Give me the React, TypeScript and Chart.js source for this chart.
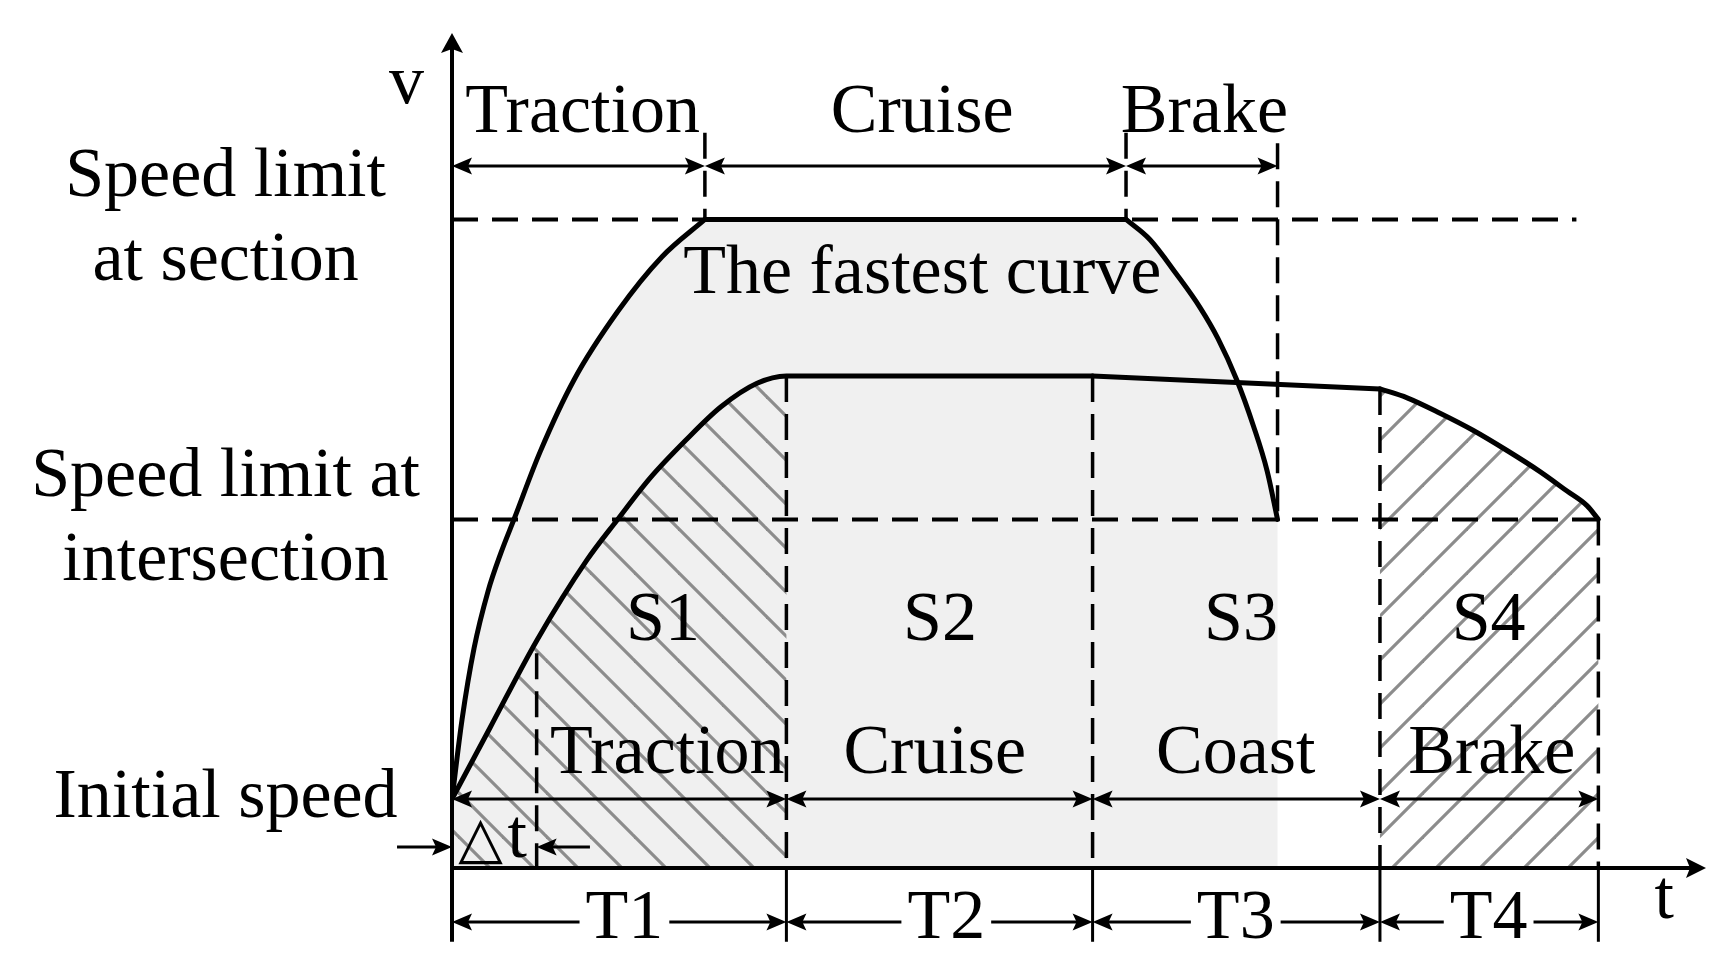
import React, { useEffect, useRef } from 'react';
import { Chart, registerables } from 'chart.js';

Chart.register(...registerables);

const FONT = "'Liberation Serif', 'Times New Roman', Times, serif";

// ---------- speed levels (v units) ----------
const INITIAL_SPEED = 8.5;
const INTERSECTION_LIMIT = 43;
const SECTION_LIMIT = 80;

// ---------- time boundaries (t units) ----------
const PHASE_EDGES = [0, 32, 61.3, 88.8, 109.7]; // T1 | T2 | T3 | T4
const FAST_EDGES = [0, 24.2, 64.5, 79]; // fastest curve: traction | cruise | brake
const DELTA_T = 8.1;

// ---------- the fastest curve ----------
const FAST_RISE_T = [0, 0.96, 2.11, 3.44, 4.69, 5.93, 8.42, 11.67, 15.89, 20.1, 24.2];
const FAST_RISE_V = [8.5, 18.3, 27.1, 34.1, 38.9, 43.0, 51.3, 60.2, 68.7, 75.4, 80];
const FAST_CRUISE_T = [24.2, 64.5];
const FAST_CRUISE_V = [80, 80];
const FAST_BRAKE_T = [64.5, 66.8, 69.3, 71.6, 73.3, 75.1, 76.7, 78.0, 79.0];
const FAST_BRAKE_V = [80, 77.5, 73.3, 69.1, 65.3, 60.2, 54.5, 49.0, 43.0];

// ---------- the planned curve ----------
const PLAN_TRACTION_T = [0, 3.64, 8.13, 12.92, 15.79, 18.95, 22.39, 25.74, 29.19, 32.0, 61.3];
const PLAN_TRACTION_V = [8.5, 17.3, 28.1, 38.0, 42.9, 48.1, 52.8, 56.9, 59.8, 60.7, 60.7];
const PLAN_COAST_T = [61.3, 88.8];
const PLAN_COAST_V = [60.7, 59.1];
const PLAN_BRAKE_T = [88.8, 91.4, 94.55, 97.7, 100.96, 104.11, 106.7, 108.61, 109.7];
const PLAN_BRAKE_V = [59.1, 58.0, 56.1, 54.0, 51.5, 48.9, 46.5, 44.7, 43.0];

// ---------- labels ----------
const Y_TICK_VALUES = [INITIAL_SPEED, INTERSECTION_LIMIT, SECTION_LIMIT];
const Y_TICK_LABELS = [['Initial speed'], ['Speed limit at', 'intersection'], ['Speed limit', 'at section']];
const TOP_PHASE_LABELS = ['Traction', 'Cruise', 'Brake'];
const PHASE_LABELS = ['Traction', 'Cruise', 'Coast', 'Brake'];
const AREA_LABELS = ['S1', 'S2', 'S3', 'S4'];
const PERIOD_LABELS = ['T1', 'T2', 'T3', 'T4'];
const FASTEST_LABEL = 'The fastest curve';

// ---------- annotation placement (data space) ----------
const LAYOUT = {
  xMax: 120,
  yMax: 103,
  topArrowV: 86.6,
  topLabelV: 90.8,
  topLabelX: [12.5, 45.0, 72.0],
  topGuideTopV: [90.7, 90.7, 89.4],
  fastestX: 45.0,
  fastestV: 70.9,
  areaLabelV: 28.1,
  areaLabelX: [20.2, 46.7, 75.5, 99.2],
  phaseLabelV: 11.7,
  phaseLabelX: [20.6, 46.2, 75.0, 99.5],
  dtGuideTopV: 26.5,
  dtArrowV: 2.6,
  dtArrowTails: [-5.26, 13.2],
  dtTriX: 0.6,
  dtTX: 5.3,
  dtLabelV: 1.36,
  bottomArrowV: -6.66,
  tickBottomV: -9.1,
  periodLabelV: -8.63,
  periodLabelX: [16.5, 47.3, 75.0, 99.2],
  sectionGuideEnd: 107.6,
  vLabelX: -4.35,
  vLabelV: 94.4,
  tLabelX: 116.0,
  tLabelV: -6.2,
};

const pts = (T: number[], V: number[]) => T.map((t, i) => ({ x: t, y: V[i] }));
const valueAt = (T: number[], V: number[], t: number) => V[T.indexOf(t)];

function arrowHead(ctx: CanvasRenderingContext2D, x: number, y: number, dx: number, dy: number, len = 20, half = 8.5, notch = 4) {
  const bx = x - dx * len;
  const by = y - dy * len;
  const nx = -dy;
  const ny = dx;
  ctx.beginPath();
  ctx.moveTo(x, y);
  ctx.lineTo(bx + nx * half, by + ny * half);
  ctx.lineTo(x - dx * (len - notch), y - dy * (len - notch));
  ctx.lineTo(bx - nx * half, by - ny * half);
  ctx.closePath();
  ctx.fill();
}

function trace(ctx: CanvasRenderingContext2D, meta: any) {
  const points = meta.data as any[];
  const opts = meta.dataset.options;
  const curved = opts.cubicInterpolationMode === 'monotone' || opts.tension > 0;
  points.forEach((p, i) => {
    if (i === 0) {
      ctx.lineTo(p.x, p.y);
      return;
    }
    const q = points[i - 1];
    if (curved) ctx.bezierCurveTo(q.cp2x, q.cp2y, p.cp1x, p.cp1y, p.x, p.y);
    else ctx.lineTo(p.x, p.y);
  });
}

function makeHatch(ctx: CanvasRenderingContext2D, dir: 'back' | 'fwd', phase: number) {
  const s = 44;
  const tile = document.createElement('canvas');
  tile.width = s;
  tile.height = s;
  const t = tile.getContext('2d')!;
  t.strokeStyle = '#8c8c8c';
  t.lineWidth = 3.2;
  for (let k = -1; k <= 2; k++) {
    t.beginPath();
    if (dir === 'back') {
      t.moveTo(-4, k * s - 4);
      t.lineTo(s + 4, k * s + s + 4);
    } else {
      t.moveTo(-4, k * s + 4);
      t.lineTo(s + 4, k * s - s - 4);
    }
    t.stroke();
  }
  const pat = ctx.createPattern(tile, 'repeat')!;
  try {
    pat.setTransform(new DOMMatrix([1, 0, 0, 1, phase, 0]));
  } catch (e) {
    /* ignore */
  }
  return pat;
}

const diagramPlugin = {
  id: 'speedDiagram',
  beforeDatasetsDraw(chart: any) {
    const ctx: CanvasRenderingContext2D = chart.ctx;
    const X = (v: number) => chart.scales.x.getPixelForValue(v);
    const Y = (v: number) => chart.scales.y.getPixelForValue(v);
    const metas = chart.data.datasets.map((_: any, i: number) => chart.getDatasetMeta(i));
    metas.forEach((m: any) => m.dataset && m.dataset.updateControlPoints(chart.chartArea, 'x'));

    // light grey area under the fastest curve
    ctx.save();
    ctx.beginPath();
    ctx.moveTo(X(FAST_RISE_T[0]), Y(0));
    trace(ctx, metas[0]);
    trace(ctx, metas[1]);
    trace(ctx, metas[2]);
    ctx.lineTo(X(FAST_BRAKE_T[FAST_BRAKE_T.length - 1]), Y(0));
    ctx.closePath();
    ctx.fillStyle = '#f0f0f0';
    ctx.fill();
    ctx.restore();

    // S1 hatch
    ctx.save();
    ctx.beginPath();
    ctx.rect(X(PHASE_EDGES[0]), 0, X(PHASE_EDGES[1]) - X(PHASE_EDGES[0]), Y(0));
    ctx.clip();
    ctx.beginPath();
    ctx.moveTo(X(PLAN_TRACTION_T[0]), Y(0));
    trace(ctx, metas[3]);
    ctx.lineTo(X(PLAN_TRACTION_T[PLAN_TRACTION_T.length - 1]), Y(0));
    ctx.closePath();
    ctx.fillStyle = makeHatch(ctx, 'back', 18);
    ctx.fill();
    ctx.restore();

    // S4 hatch
    ctx.save();
    ctx.beginPath();
    ctx.moveTo(X(PLAN_BRAKE_T[0]), Y(0));
    trace(ctx, metas[5]);
    ctx.lineTo(X(PLAN_BRAKE_T[PLAN_BRAKE_T.length - 1]), Y(0));
    ctx.closePath();
    ctx.fillStyle = makeHatch(ctx, 'fwd', 16);
    ctx.fill();
    ctx.restore();
  },
  afterDatasetsDraw(chart: any) {
    const ctx: CanvasRenderingContext2D = chart.ctx;
    const X = (v: number) => chart.scales.x.getPixelForValue(v);
    const Y = (v: number) => chart.scales.y.getPixelForValue(v);
    const L = LAYOUT;
    const seg = (x1: number, v1: number, x2: number, v2: number) => {
      ctx.beginPath();
      ctx.moveTo(X(x1), Y(v1));
      ctx.lineTo(X(x2), Y(v2));
      ctx.stroke();
    };

    ctx.save();
    ctx.strokeStyle = '#000';
    ctx.fillStyle = '#000';

    // ---- dashed guides ----
    ctx.lineWidth = 4;
    ctx.setLineDash([26, 14]);
    seg(0, SECTION_LIMIT, L.sectionGuideEnd, SECTION_LIMIT);
    seg(0, INTERSECTION_LIMIT, PHASE_EDGES[4], INTERSECTION_LIMIT);
    ctx.lineWidth = 3.5;
    ctx.setLineDash([26, 12]);
    seg(FAST_EDGES[1], L.topGuideTopV[0], FAST_EDGES[1], SECTION_LIMIT);
    seg(FAST_EDGES[2], L.topGuideTopV[1], FAST_EDGES[2], SECTION_LIMIT);
    seg(FAST_EDGES[3], L.topGuideTopV[2], FAST_EDGES[3], INTERSECTION_LIMIT);
    seg(PHASE_EDGES[1], valueAt(PLAN_TRACTION_T, PLAN_TRACTION_V, PHASE_EDGES[1]), PHASE_EDGES[1], 0);
    seg(PHASE_EDGES[2], valueAt(PLAN_COAST_T, PLAN_COAST_V, PHASE_EDGES[2]), PHASE_EDGES[2], 0);
    seg(PHASE_EDGES[3], valueAt(PLAN_BRAKE_T, PLAN_BRAKE_V, PHASE_EDGES[3]), PHASE_EDGES[3], 0);
    seg(PHASE_EDGES[4], valueAt(PLAN_BRAKE_T, PLAN_BRAKE_V, PHASE_EDGES[4]), PHASE_EDGES[4], 0);
    seg(DELTA_T, L.dtGuideTopV, DELTA_T, 0);
    ctx.setLineDash([]);

    // ---- axes ----
    ctx.lineWidth = 4;
    ctx.beginPath();
    ctx.moveTo(X(0), Y(L.tickBottomV));
    ctx.lineTo(X(0), Y(L.yMax) + 12);
    ctx.stroke();
    arrowHead(ctx, X(0), Y(L.yMax), 0, -1, 20, 11, 4);
    ctx.beginPath();
    ctx.moveTo(X(0), Y(0));
    ctx.lineTo(X(L.xMax) - 12, Y(0));
    ctx.stroke();
    arrowHead(ctx, X(L.xMax), Y(0), 1, 0, 20, 10, 4);

    // ticks below the time axis
    ctx.lineWidth = 3;
    for (let i = 1; i < PHASE_EDGES.length; i++) seg(PHASE_EDGES[i], 0, PHASE_EDGES[i], L.tickBottomV);

    // ---- dimension arrows ----
    const dim = (a: number, b: number, v: number) => {
      const y = Y(v);
      ctx.beginPath();
      ctx.moveTo(X(a) + 8, y);
      ctx.lineTo(X(b) - 8, y);
      ctx.stroke();
      arrowHead(ctx, X(a), y, -1, 0);
      arrowHead(ctx, X(b), y, 1, 0);
    };
    ctx.lineWidth = 3;
    for (let i = 0; i < 3; i++) dim(FAST_EDGES[i], FAST_EDGES[i + 1], L.topArrowV);
    for (let i = 0; i < 4; i++) dim(PHASE_EDGES[i], PHASE_EDGES[i + 1], INITIAL_SPEED);

    ctx.font = `70px ${FONT}`;
    ctx.textBaseline = 'alphabetic';
    ctx.textAlign = 'center';

    // bottom period arrows with labels
    for (let i = 0; i < 4; i++) {
      const cx = X(L.periodLabelX[i]);
      const w = ctx.measureText(PERIOD_LABELS[i]).width;
      const y = Y(L.bottomArrowV);
      const gap = 6;
      ctx.beginPath();
      ctx.moveTo(X(PHASE_EDGES[i]) + 8, y);
      ctx.lineTo(cx - w / 2 - gap, y);
      ctx.moveTo(cx + w / 2 + gap, y);
      ctx.lineTo(X(PHASE_EDGES[i + 1]) - 8, y);
      ctx.stroke();
      arrowHead(ctx, X(PHASE_EDGES[i]), y, -1, 0);
      arrowHead(ctx, X(PHASE_EDGES[i + 1]), y, 1, 0);
      ctx.fillText(PERIOD_LABELS[i], cx, Y(L.periodLabelV));
    }

    // delta t arrows
    const dy = Y(L.dtArrowV);
    ctx.beginPath();
    ctx.moveTo(X(L.dtArrowTails[0]), dy);
    ctx.lineTo(X(0) - 8, dy);
    ctx.moveTo(X(L.dtArrowTails[1]), dy);
    ctx.lineTo(X(DELTA_T) + 8, dy);
    ctx.stroke();
    arrowHead(ctx, X(0), dy, 1, 0);
    arrowHead(ctx, X(DELTA_T), dy, -1, 0);

    // ---- texts ----
    for (let i = 0; i < 3; i++) ctx.fillText(TOP_PHASE_LABELS[i], X(L.topLabelX[i]), Y(L.topLabelV));
    ctx.fillText(FASTEST_LABEL, X(L.fastestX), Y(L.fastestV));
    for (let i = 0; i < 4; i++) ctx.fillText(AREA_LABELS[i], X(L.areaLabelX[i]), Y(L.areaLabelV));
    for (let i = 0; i < 4; i++) ctx.fillText(PHASE_LABELS[i], X(L.phaseLabelX[i]), Y(L.phaseLabelV));
    ctx.fillText('v', X(L.vLabelX), Y(L.vLabelV));
    ctx.fillText('t', X(L.tLabelX), Y(L.tLabelV));
    ctx.textAlign = 'left';
    ctx.font = `58px 'DejaVu Sans', ${FONT}`;
    ctx.fillText('\u25B3', X(L.dtTriX), Y(L.dtLabelV));
    ctx.font = `70px ${FONT}`;
    ctx.fillText('t', X(L.dtTX), Y(L.dtLabelV));

    ctx.restore();
  },
};

export default function App() {
  const ref = useRef<HTMLCanvasElement>(null);

  useEffect(() => {
    const canvas = ref.current;
    if (!canvas) return;
    const stroke = {
      borderColor: '#000',
      borderWidth: 5,
      pointRadius: 0,
      pointHoverRadius: 0,
      fill: false,
      borderCapStyle: 'round' as const,
      borderJoinStyle: 'round' as const,
    };
    const chart = new Chart(canvas, {
      type: 'line',
      data: {
        datasets: [
          { ...stroke, label: 'fastest traction', data: pts(FAST_RISE_T, FAST_RISE_V), cubicInterpolationMode: 'monotone' },
          { ...stroke, label: 'fastest cruise', data: pts(FAST_CRUISE_T, FAST_CRUISE_V), tension: 0 },
          { ...stroke, label: 'fastest brake', data: pts(FAST_BRAKE_T, FAST_BRAKE_V), cubicInterpolationMode: 'monotone' },
          { ...stroke, label: 'traction + cruise', data: pts(PLAN_TRACTION_T, PLAN_TRACTION_V), cubicInterpolationMode: 'monotone' },
          { ...stroke, label: 'coast', data: pts(PLAN_COAST_T, PLAN_COAST_V), tension: 0 },
          { ...stroke, label: 'brake', data: pts(PLAN_BRAKE_T, PLAN_BRAKE_V), cubicInterpolationMode: 'monotone' },
        ],
      },
      options: {
        responsive: false,
        animation: false,
        devicePixelRatio: 1,
        events: [],
        layout: { padding: { left: 0, top: 33, right: 24, bottom: 100 } },
        plugins: { legend: { display: false }, tooltip: { enabled: false }, title: { display: false } },
        scales: {
          x: { type: 'linear', min: 0, max: LAYOUT.xMax, display: false },
          y: {
            type: 'linear',
            min: 0,
            max: LAYOUT.yMax,
            position: 'left',
            grid: { display: false, drawTicks: false },
            border: { display: false },
            afterBuildTicks: (scale: any) => {
              scale.ticks = Y_TICK_VALUES.map((v) => ({ value: v }));
            },
            afterFit: (scale: any) => {
              scale.width = 452;
              scale.paddingTop = 0;
              scale.paddingBottom = 0;
            },
            ticks: {
              autoSkip: false,
              crossAlign: 'center',
              padding: 32,
              color: '#000',
              font: { family: FONT, size: 70, lineHeight: 1.2 },
              callback: (_v: any, i: number) => Y_TICK_LABELS[i],
            },
          },
        },
      },
      plugins: [diagramPlugin],
    } as any);
    return () => chart.destroy();
  }, []);

  return (
    <div style={{ position: 'absolute', left: 0, top: 0, width: 1730, height: 968, background: '#fff' }}>
      <canvas ref={ref} width={1730} height={968} style={{ display: 'block', width: 1730, height: 968 }} />
    </div>
  );
}
